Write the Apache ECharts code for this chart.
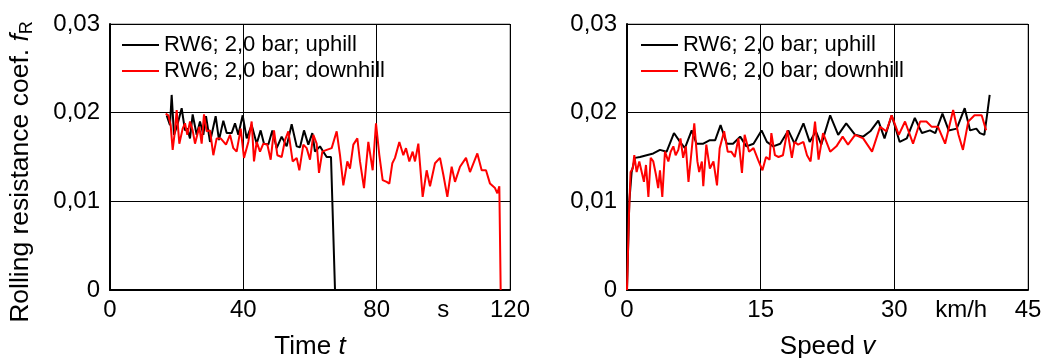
<!DOCTYPE html>
<html>
<head>
<meta charset="utf-8">
<script src="https://cdn.jsdelivr.net/npm/echarts@6/dist/echarts.min.js"></script>
<style>
  html, body { margin: 0; padding: 0; background: #fff; }
  #chart { width: 1046px; height: 358px; }
</style>
</head>
<body>
<div id="chart"></div>
<script>
// left plot: coefficient over time (s)
const timeUp = [17, 18, 18.5, 19.2, 20.2, 21.5, 22.5, 23.2, 24, 24.8, 26, 27, 28, 28.8, 30, 31.7, 32.7, 34, 35, 36.5,
  37.5, 38.5, 39.8, 41, 42.5, 44, 45.2, 46.2, 47.5, 48.7, 50, 51.5, 53, 54.5, 56, 57, 58.2, 59.5, 60.7, 61.5,
  63, 64, 65, 66.3, 67.5]
const fUpTime = [0.0197, 0.0186, 0.0220, 0.0175, 0.0186, 0.0205, 0.0180, 0.0182, 0.0171, 0.0198, 0.0175, 0.0190, 0.0175, 0.0196, 0.0167, 0.0196, 0.0169, 0.0191, 0.0177, 0.0177,
  0.0188, 0.0175, 0.0197, 0.0171, 0.0186, 0.0165, 0.0180, 0.0165, 0.0164, 0.0180, 0.0160, 0.0173, 0.0162, 0.0187, 0.0162, 0.0161, 0.0180, 0.0164, 0.0177, 0.0156,
  0.0162, 0.0156, 0.0150, 0.0150, 0]

const timeDown = [16.7, 17.5, 18.2, 18.8, 19.5, 20, 20.8, 21.8, 22.5, 23.2, 24, 24.8, 25.5, 26.8, 27.5, 28.2, 29, 30, 31, 32,
  33.2, 34.8, 36, 37, 38, 39.2, 40.2, 41.5, 42.5, 43.2, 44, 45, 46, 47.2, 48.2, 49.2, 50.2, 51.5, 52.5, 53.5,
  54.8, 56, 56.8, 58, 59, 60, 61, 62, 62.7, 63.7, 65, 66.5, 68, 69, 70, 71.2, 72, 73, 74.2, 75,
  76.2, 77.5, 78.8, 79.8, 80.8, 81.8, 83, 83.8, 84.7, 85.5, 86.8, 88, 88.8, 89.8, 90.8, 91.5, 92.5, 93.8, 95, 96,
  97.5, 99, 100, 101.2, 102.5, 103.5, 105, 106.8, 108, 110.2, 111.5, 112.8, 114, 115.5, 116.2, 116.8, 117.2]
const fDownTime = [0.0199, 0.0197, 0.0186, 0.0158, 0.0180, 0.0203, 0.0165, 0.0182, 0.0188, 0.0175, 0.0190, 0.0180, 0.0165, 0.0184, 0.0165, 0.0198, 0.0179, 0.0180, 0.0152, 0.0171,
  0.0171, 0.0164, 0.0175, 0.0160, 0.0156, 0.0182, 0.0149, 0.0167, 0.0190, 0.0145, 0.0167, 0.0156, 0.0165, 0.0164, 0.0147, 0.0180, 0.0152, 0.0150, 0.0169, 0.0179,
  0.0145, 0.0149, 0.0135, 0.0164, 0.0160, 0.0147, 0.0175, 0.0165, 0.0132, 0.0156, 0.0158, 0.0160, 0.0179, 0.0152, 0.0118, 0.0145, 0.0137, 0.0164, 0.0171, 0.0145,
  0.0115, 0.0167, 0.0135, 0.0188, 0.0152, 0.0124, 0.0122, 0.0120, 0.0143, 0.0149, 0.0167, 0.0152, 0.0160, 0.0145, 0.0156, 0.0145, 0.0165, 0.0105, 0.0135, 0.0117,
  0.0143, 0.0149, 0.0130, 0.0105, 0.0139, 0.0122, 0.0139, 0.0149, 0.0133, 0.0154, 0.0135, 0.0135, 0.0120, 0.0115, 0.0109, 0.0117, 0]

// right plot: coefficient over speed (km/h)
const speedUp = [0, 0.26, 0.52, 0.9, 1.46, 2.2, 2.95, 3.7, 4.45, 5.27, 5.95, 6.5, 7.26, 7.8, 8.56, 9.3, 9.9, 10.5, 11.2, 11.9,
  12.7, 13.4, 14.2, 15.1, 15.7, 16.4, 17.2, 18.1, 18.8, 19.8, 20.5, 21.2, 21.8, 22.8, 23.7, 24.6, 25.6, 26.5, 27.3, 28.2,
  28.9, 29.7, 30.6, 31.4, 32.3, 33.1, 34.0, 34.6, 35.4, 36.1, 37.0, 37.9, 38.5, 39.2, 39.6, 40.1, 40.4, 40.7]
const fUpSpeed = [0, 0.0100, 0.0133, 0.0149, 0.0150, 0.0152, 0.0154, 0.0158, 0.0156, 0.0177, 0.0167, 0.0160, 0.0180, 0.0165, 0.0165, 0.0169, 0.0169, 0.0186, 0.0165, 0.0165,
  0.0173, 0.0162, 0.0165, 0.0180, 0.0167, 0.0162, 0.0165, 0.0180, 0.0165, 0.0188, 0.0167, 0.0179, 0.0164, 0.0197, 0.0175, 0.0188, 0.0175, 0.0173, 0.0179, 0.0191,
  0.0171, 0.0197, 0.0167, 0.0171, 0.0194, 0.0177, 0.0180, 0.0177, 0.0199, 0.0180, 0.0182, 0.0205, 0.0180, 0.0182, 0.0177, 0.0175, 0.0197, 0.0220]

const speedDown = [0, 0.22, 0.4, 0.64, 0.82, 1.08, 1.38, 1.65, 1.9, 2.13, 2.4, 2.66, 2.95, 3.25, 3.5, 3.7, 3.96, 4.26, 4.64, 4.9,
  5.2, 5.46, 5.76, 6.0, 6.3, 6.6, 6.9, 7.2, 7.55, 7.9, 8.1, 8.4, 8.56, 8.9, 9.3, 9.7, 10.1, 10.4, 10.9, 11.3,
  11.7, 12.1, 12.5, 12.9, 13.2, 13.7, 14.2, 14.7, 15.2, 15.6, 16.0, 16.2, 16.6, 17.0, 17.5, 18.0, 18.5, 18.8, 19.2, 19.8,
  20.2, 20.6, 21.1, 21.5, 22.0, 22.8, 23.5, 24.2, 24.8, 25.6, 26.5, 27.5, 28.4, 29.1, 29.7, 30.5, 31.2, 32.1, 32.9, 33.6,
  34.2, 34.9, 35.7, 36.6, 37.2, 37.7, 38.3, 39.0, 39.8, 40.3]
const fDownSpeed = [0, 0.0085, 0.0133, 0.0137, 0.0152, 0.0133, 0.0145, 0.0133, 0.0122, 0.0141, 0.0105, 0.0149, 0.0145, 0.0130, 0.0115, 0.0135, 0.0105, 0.0156, 0.0145, 0.0156,
  0.0162, 0.0152, 0.0158, 0.0171, 0.0149, 0.0162, 0.0122, 0.0152, 0.0188, 0.0145, 0.0133, 0.0145, 0.0117, 0.0164, 0.0137, 0.0145, 0.0118, 0.0160, 0.0179, 0.0156,
  0.0156, 0.0150, 0.0171, 0.0132, 0.0175, 0.0156, 0.0160, 0.0147, 0.0135, 0.0150, 0.0147, 0.0177, 0.0152, 0.0150, 0.0152, 0.0180, 0.0149, 0.0167, 0.0164, 0.0167,
  0.0152, 0.0145, 0.0190, 0.0147, 0.0177, 0.0156, 0.0162, 0.0173, 0.0164, 0.0175, 0.0171, 0.0156, 0.0184, 0.0179, 0.0197, 0.0175, 0.0190, 0.0165, 0.0190, 0.0190,
  0.0184, 0.0184, 0.0165, 0.0203, 0.0175, 0.0158, 0.0190, 0.0197, 0.0197, 0.0180]

const seriesNames = ['RW6; 2,0 bar; uphill', 'RW6; 2,0 bar; downhill']

const FONT = 'Liberation Sans, Arial, sans-serif'

function pairs(xs, ys) {
  return xs.map((x, i) => [x, ys[i]])
}

function yLabel(v) {
  if (v === 0) return '0'
  return (Math.round(v * 100) / 100).toFixed(2).replace('.', ',')
}

function mainX(grid, max, interval, formatter, nameRich) {
  return {
    type: 'value',
    gridIndex: grid,
    min: 0,
    max: max,
    interval: interval,
    name: nameRich,
    nameLocation: 'middle',
    nameGap: 44,
    nameTextStyle: {
      rich: {
        n: { fontFamily: FONT, fontSize: 26, color: '#000' },
        i: { fontFamily: FONT, fontSize: 26, color: '#000', fontStyle: 'italic' }
      }
    },
    axisLine: { show: true, lineStyle: { color: '#000', width: 2 } },
    axisTick: { show: false },
    splitLine: { show: false },
    axisLabel: { formatter: formatter, color: '#000', fontFamily: FONT, fontSize: 24, margin: 8 }
  }
}

function gridX(grid, max, interval) {
  return {
    type: 'value',
    gridIndex: grid,
    min: 0,
    max: max,
    interval: interval,
    axisLine: { show: false },
    axisTick: { show: false },
    axisLabel: { show: false },
    splitLine: { show: true, lineStyle: { color: '#000', width: 1 } }
  }
}

function yAxis(grid, withName) {
  const ax = {
    type: 'value',
    gridIndex: grid,
    min: 0,
    max: 0.03,
    interval: 0.01,
    axisLine: { show: true, lineStyle: { color: '#000', width: 2 } },
    axisTick: { show: false },
    splitLine: { show: true, lineStyle: { color: '#000', width: 1 } },
    axisLabel: { formatter: yLabel, color: '#000', fontFamily: FONT, fontSize: 24, margin: 10 }
  }
  if (withName) {
    ax.name = '{n|Rolling resistance coef. }{i|f}{s|R}'
    ax.nameLocation = 'middle'
    ax.nameGap = 74
    ax.nameTextStyle = {
      padding: [0, 30, 0, 0],
      rich: {
        n: { fontFamily: FONT, fontSize: 26.5, color: '#000', lineHeight: 30 },
        i: { fontFamily: FONT, fontSize: 26.5, color: '#000', fontStyle: 'italic', lineHeight: 30 },
        s: { fontFamily: FONT, fontSize: 18, color: '#000', verticalAlign: 'bottom', lineHeight: 30 }
      }
    }
  }
  return ax
}

function legend(left) {
  return {
    data: seriesNames,
    orient: 'vertical',
    left: left,
    top: 34,
    padding: 0,
    icon: 'rect',
    itemWidth: 37,
    itemHeight: 2,
    itemGap: 4,
    textStyle: { fontFamily: FONT, fontSize: 22, color: '#000', lineHeight: 22 },
    selectedMode: false
  }
}

function line(name, xi, yi, data, color) {
  return {
    name: name,
    type: 'line',
    xAxisIndex: xi,
    yAxisIndex: yi,
    data: data,
    symbol: 'none',
    animation: false,
    lineStyle: { color: color, width: 2 },
    itemStyle: { color: color }
  }
}

const chart = echarts.init(document.getElementById('chart'), null, { renderer: 'canvas' })

chart.setOption({
  backgroundColor: '#fff',
  animation: false,
  grid: [
    { left: 110, right: 536, top: 24, bottom: 68, outerBoundsMode: 'none', show: true, borderColor: '#808080', borderWidth: 1 },
    { left: 627, right: 18, top: 24, bottom: 68, outerBoundsMode: 'none', show: true, borderColor: '#808080', borderWidth: 1 }
  ],
  legend: [legend(122), legend(641)],
  xAxis: [
    mainX(0, 120, 20, v => (v === 100 ? 's' : (v % 40 === 0 ? String(v) : '')), '{n|Time }{i|t}'),
    gridX(0, 120, 40),
    mainX(1, 45, 7.5, v => (v === 37.5 ? 'km/h' : (v % 15 === 0 ? String(v) : '')), '{n|Speed }{i|v}'),
    gridX(1, 45, 15)
  ],
  yAxis: [yAxis(0, true), yAxis(1, false)],
  series: [
    line(seriesNames[0], 0, 0, pairs(timeUp, fUpTime), '#000'),
    line(seriesNames[1], 0, 0, pairs(timeDown, fDownTime), '#ff0000'),
    line(seriesNames[0], 2, 1, pairs(speedUp, fUpSpeed), '#000'),
    line(seriesNames[1], 2, 1, pairs(speedDown, fDownSpeed), '#ff0000')
  ]
})
</script>
</body>
</html>
